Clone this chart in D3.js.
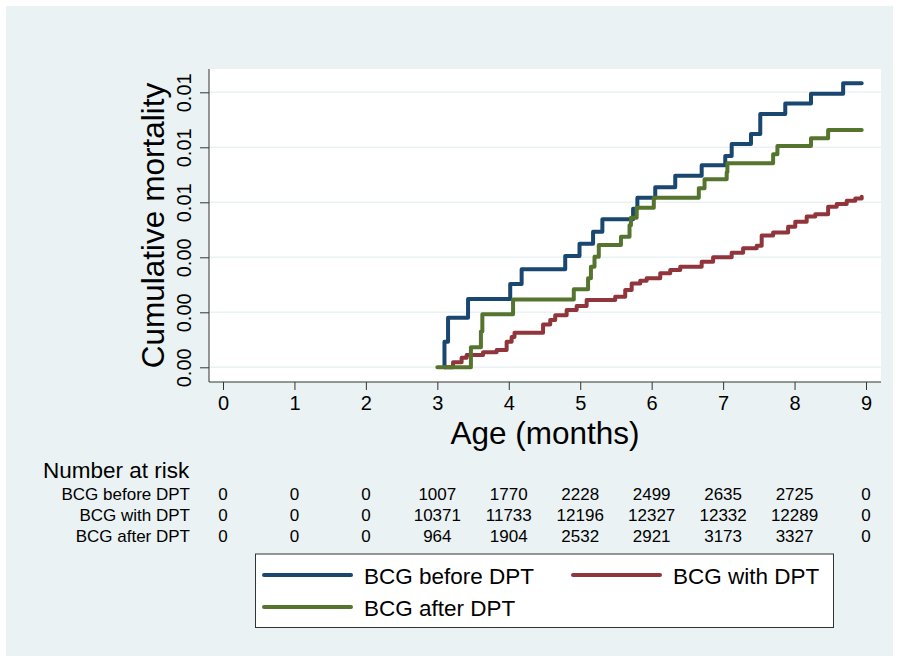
<!DOCTYPE html>
<html>
<head>
<meta charset="utf-8">
<script src="https://cdn.jsdelivr.net/npm/d3@7"></script>
<style>
  body { margin: 0; background: #fff; }
  text { font-family: "Liberation Sans", Arial, Helvetica, sans-serif; fill: #000; }
</style>
</head>
<body>
<script>
'use strict';

// canvas size
const width = 899,
  height = 661;

// x axis ticks (months) and y axis ticks (cumulative mortality)
const xTicks = [0, 1, 2, 3, 4, 5, 6, 7, 8, 9];
const yTicks = [0, 0.002, 0.004, 0.006, 0.008, 0.010];

// series names and colours
const seriesNames = ["BCG before DPT", "BCG with DPT", "BCG after DPT"];
const seriesColors = ["#1a476f", "#90353b", "#55752f"];

// step points: [age in months, cumulative mortality]
const beforeDPT = [
  [3.10, 0], [3.10, 0.00093], [3.15, 0.00180], [3.43, 0.00248], [4.02, 0.00303],
  [4.18, 0.00357], [4.79, 0.00405], [4.99, 0.00449], [5.18, 0.00493], [5.31, 0.00538],
  [5.74, 0.00577], [5.80, 0.00617], [6.05, 0.00655], [6.33, 0.00697], [6.70, 0.00735],
  [7.03, 0.00768], [7.12, 0.00812], [7.39, 0.00848], [7.52, 0.00921], [7.87, 0.00959],
  [8.23, 0.00995], [8.68, 0.01033], [8.94, 0.01033]
];
const withDPT = [
  [3.10, 0], [3.22, 0.00018], [3.34, 0.00035], [3.41, 0.00045], [3.64, 0.00055],
  [3.83, 0.00063], [3.97, 0.00093], [4.04, 0.00110], [4.08, 0.00126], [4.48, 0.00156],
  [4.58, 0.00172], [4.65, 0.00189], [4.81, 0.00208], [4.95, 0.00223], [5.09, 0.00245],
  [5.49, 0.00257], [5.63, 0.00281], [5.72, 0.00305], [5.84, 0.00315], [5.93, 0.00324],
  [6.12, 0.00342], [6.26, 0.00354], [6.40, 0.00366], [6.70, 0.00384], [6.86, 0.00400],
  [7.12, 0.00417], [7.28, 0.00433], [7.47, 0.00442], [7.54, 0.00479], [7.70, 0.00490],
  [7.91, 0.00511], [8.01, 0.00529], [8.17, 0.00548], [8.29, 0.00557], [8.47, 0.00584],
  [8.59, 0.00594], [8.73, 0.00606], [8.85, 0.00614], [8.94, 0.00620]
];
const afterDPT = [
  [3.00, 0], [3.47, 0], [3.47, 0.00073], [3.61, 0.00130], [3.63, 0.00193],
  [4.06, 0.00247], [4.91, 0.00284], [5.11, 0.00324], [5.15, 0.00366], [5.20, 0.00402],
  [5.26, 0.00445], [5.57, 0.00475], [5.69, 0.00517], [5.71, 0.00544], [5.79, 0.00580],
  [6.03, 0.00617], [6.66, 0.00651], [6.74, 0.00684], [7.05, 0.00709], [7.06, 0.00742],
  [7.70, 0.00775], [7.76, 0.00805], [8.23, 0.00833], [8.47, 0.00863], [8.94, 0.00863]
];

// number at risk table
const riskTitle = "Number at risk";
const riskBefore = [0, 0, 0, 1007, 1770, 2228, 2499, 2635, 2725, 0];
const riskWith = [0, 0, 0, 10371, 11733, 12196, 12327, 12332, 12289, 0];
const riskAfter = [0, 0, 0, 964, 1904, 2532, 2921, 3173, 3327, 0];

window.onload = function () {
  const svg = d3.select("body")
    .append("svg")
    .attr("width", width)
    .attr("height", height);

  // graph region background
  svg.append("rect")
    .attr("x", 6).attr("y", 6)
    .attr("width", 887).attr("height", 650)
    .attr("fill", "#eaf2f3");

  // plot region
  const plot = { left: 209, right: 881, top: 69, bottom: 382 };
  svg.append("rect")
    .attr("x", plot.left).attr("y", plot.top)
    .attr("width", plot.right - plot.left)
    .attr("height", plot.bottom - plot.top)
    .attr("fill", "#fff");

  const x = d3.scaleLinear().domain([0, 9]).range([223, 866]);
  const y = d3.scaleLinear().domain([0, 0.010]).range([367.3, 92.3]);

  // grid lines
  svg.append("g")
    .selectAll("line")
    .data(yTicks)
    .join("line")
    .attr("x1", plot.left).attr("x2", plot.right)
    .attr("y1", d => y(d)).attr("y2", d => y(d))
    .attr("stroke", "#eaf2f3")
    .attr("stroke-width", 1.5);

  drawCurves(svg, x, y);
  drawAxes(svg, x, y, plot);
  drawRiskTable(svg, x);
  drawLegend(svg);
};

// draws the three step curves
function drawCurves(svg, x, y) {
  const line = d3.line()
    .x(d => x(d[0]))
    .y(d => y(d[1]))
    .curve(d3.curveStepAfter);

  // drawn in Stata order: before, with, after (after on top)
  const all = [beforeDPT, withDPT, afterDPT];
  svg.append("g")
    .selectAll("path")
    .data(all)
    .join("path")
    .attr("d", line)
    .attr("fill", "none")
    .attr("stroke", (d, i) => seriesColors[i])
    .attr("stroke-width", 4)
    .attr("stroke-linejoin", "round")
    .attr("stroke-linecap", "round");
}

// draws axis lines, ticks, labels and titles
function drawAxes(svg, x, y, plot) {
  const xAxis = svg.append("g")
    .attr("transform", `translate(0,${plot.bottom})`)
    .call(d3.axisBottom(x).tickValues(xTicks).tickSize(8).tickPadding(6).tickSizeOuter(0));
  xAxis.select(".domain").remove();
  xAxis.selectAll("text")
    .style("font-size", "20px")
    .attr("fill", "#000");
  xAxis.selectAll("line").attr("stroke", "#333");

  svg.append("line")
    .attr("x1", plot.left).attr("x2", plot.right)
    .attr("y1", plot.bottom).attr("y2", plot.bottom)
    .attr("stroke", "#333");

  const yAxis = svg.append("g")
    .attr("transform", `translate(${plot.left},0)`)
    .call(d3.axisLeft(y).tickValues(yTicks).tickSize(9).tickFormat(d3.format(".2f")));
  yAxis.select(".domain").remove();
  yAxis.selectAll("line").attr("stroke", "#333");
  yAxis.selectAll("text")
    .style("font-size", "20px")
    .attr("fill", "#000")
    .attr("x", null).attr("dy", null)
    .attr("text-anchor", "middle")
    .attr("transform", "translate(-18,0) rotate(-90)");

  svg.append("line")
    .attr("x1", plot.left).attr("x2", plot.left)
    .attr("y1", plot.top).attr("y2", plot.bottom)
    .attr("stroke", "#333");

  svg.append("text")
    .attr("transform", `translate(164,${(plot.top + plot.bottom) / 2}) rotate(-90)`)
    .attr("text-anchor", "middle")
    .style("font-size", "31.5px")
    .text("Cumulative mortality");

  svg.append("text")
    .attr("x", (plot.left + plot.right) / 2)
    .attr("y", 444)
    .attr("text-anchor", "middle")
    .style("font-size", "31.5px")
    .text("Age (months)");
}

// draws the number at risk table under the axis
function drawRiskTable(svg, x) {
  svg.append("text")
    .attr("x", 43).attr("y", 478)
    .style("font-size", "22.5px")
    .text(riskTitle);

  const rows = [riskBefore, riskWith, riskAfter];
  const rowY = [500, 520.7, 541.5];

  rows.forEach((vals, r) => {
    svg.append("text")
      .attr("x", 190).attr("y", rowY[r])
      .attr("text-anchor", "end")
      .style("font-size", "17px")
      .text(seriesNames[r]);

    svg.append("g")
      .selectAll("text")
      .data(vals)
      .join("text")
      .attr("x", (d, i) => x(xTicks[i]))
      .attr("y", rowY[r])
      .attr("text-anchor", "middle")
      .style("font-size", "17px")
      .text(d => d);
  });
}

// draws the legend box
function drawLegend(svg) {
  const g = svg.append("g");
  g.append("rect")
    .attr("x", 255.5).attr("y", 554)
    .attr("width", 578).attr("height", 73.5)
    .attr("fill", "#fff")
    .attr("stroke", "#333")
    .attr("stroke-width", 1);

  const items = [
    { x: 264, y: 575 },
    { x: 573, y: 575 },
    { x: 264, y: 607 }
  ];

  items.forEach((it, i) => {
    g.append("line")
      .attr("x1", it.x).attr("x2", it.x + 87)
      .attr("y1", it.y).attr("y2", it.y)
      .attr("stroke", seriesColors[i])
      .attr("stroke-width", 4)
      .attr("stroke-linecap", "round");
    g.append("text")
      .attr("x", it.x + 100)
      .attr("y", it.y + 9)
      .style("font-size", "22.5px")
      .text(seriesNames[i]);
  });
}
</script>
</body>
</html>
